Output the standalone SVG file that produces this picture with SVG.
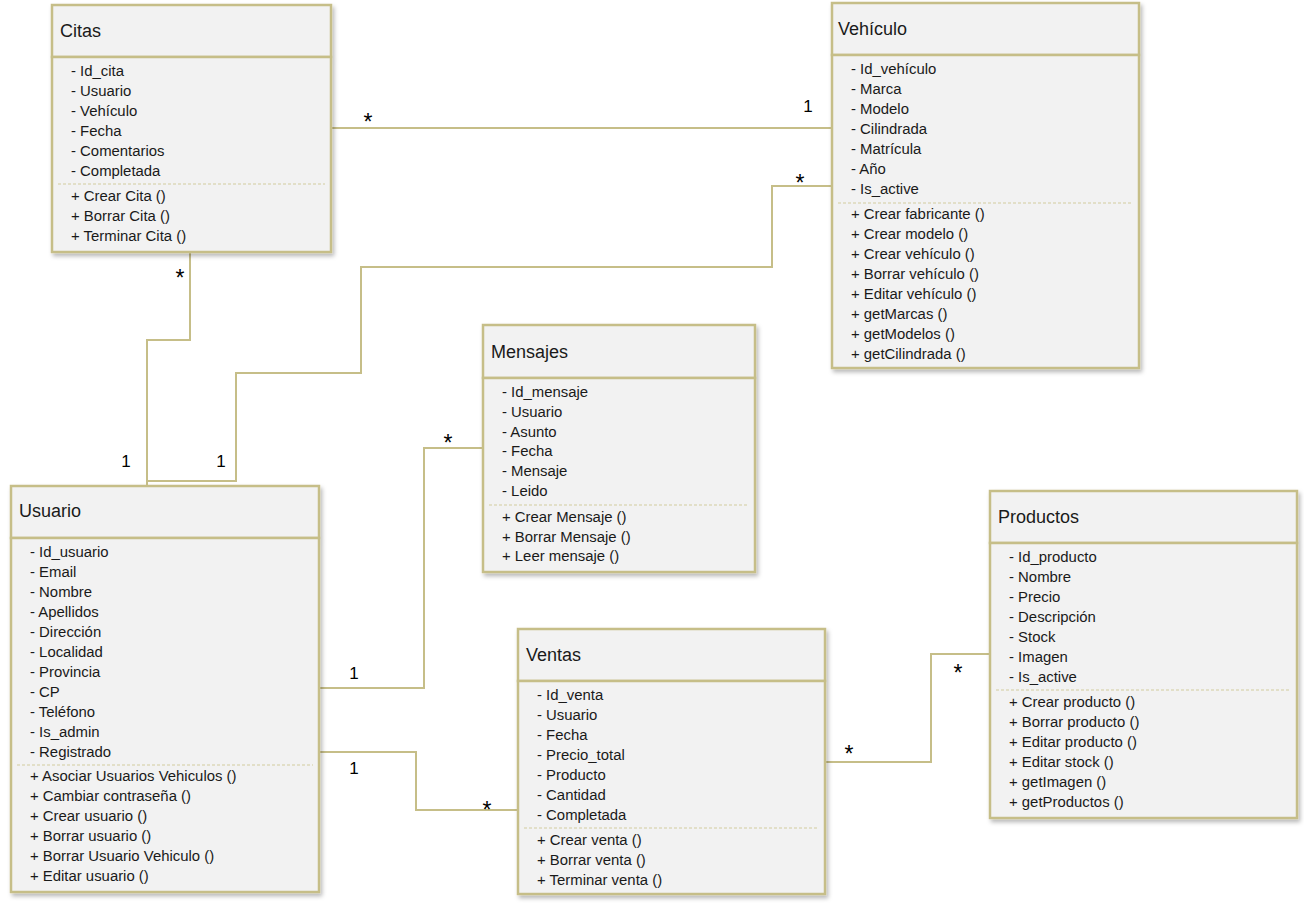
<svg xmlns="http://www.w3.org/2000/svg" width="1304" height="910" viewBox="0 0 1304 910">
<style>
.box{fill:#F2F2F2;stroke:#C6BE88;stroke-width:2.5}
.sep{stroke:#D2CB9E;stroke-width:1.2;stroke-dasharray:3 2}
.title{font-family:"Liberation Sans",Arial,sans-serif;font-size:18px;fill:#1a1a1a}
.t{font-family:"Liberation Sans",Arial,sans-serif;font-size:14.9px;fill:#1a1a1a}
.lbl{font-family:"Liberation Sans",Arial,sans-serif;font-size:17px;fill:#000;text-anchor:middle}
.star{font-family:"Liberation Sans",Arial,sans-serif;font-size:23px;fill:#000;text-anchor:middle}
.conn{fill:none;stroke:#C6BE88;stroke-width:2}
</style>
<defs>
<filter id="sh" x="-5%" y="-5%" width="115%" height="115%">
<feDropShadow dx="2" dy="3" stdDeviation="2" flood-color="#000" flood-opacity="0.28"/>
</filter>
</defs>
<rect width="1304" height="910" fill="#fff"/>

<g id="connectors">
<polyline class="conn" points="331,128 832,128"/>
<polyline class="conn" points="190,252 190,340 147,340 147,486"/>
<polyline class="conn" points="832,186 772,186 772,267 361,267 361,373 236,373 236,481 147,481"/>
<polyline class="conn" points="483,448 424,448 424,688 319,688"/>
<polyline class="conn" points="319,752 416,752 416,810 518,810"/>
<polyline class="conn" points="825,762 931,762 931,654 990,654"/>
<text class="star" x="368" y="130">*</text>
<text class="lbl" x="808" y="112">1</text>
<text class="star" x="180" y="286">*</text>
<text class="lbl" x="126" y="467">1</text>
<text class="star" x="800" y="191">*</text>
<text class="lbl" x="221" y="467">1</text>
<text class="star" x="448" y="451">*</text>
<text class="lbl" x="354" y="679">1</text>
<text class="lbl" x="354" y="774">1</text>
<text class="star" x="487" y="818">*</text>
<text class="star" x="849" y="762">*</text>
<text class="star" x="958" y="681">*</text>
</g>

<g id="citas">
<g filter="url(#sh)">
<rect class="box" x="52" y="5" width="279" height="52"/>
<rect class="box" x="52" y="57" width="279" height="195"/>
</g>
<text class="title" x="60" y="37">Citas</text>
<text class="t" x="71" y="76">- Id_cita</text>
<text class="t" x="71" y="96">- Usuario</text>
<text class="t" x="71" y="116">- Vehículo</text>
<text class="t" x="71" y="136">- Fecha</text>
<text class="t" x="71" y="156">- Comentarios</text>
<text class="t" x="71" y="176">- Completada</text>
<line class="sep" x1="58" y1="184" x2="325" y2="184"/>
<text class="t" x="71" y="201">+ Crear Cita ()</text>
<text class="t" x="71" y="221">+ Borrar Cita ()</text>
<text class="t" x="71" y="241">+ Terminar Cita ()</text>
</g>

<g id="vehiculo">
<g filter="url(#sh)">
<rect class="box" x="832" y="3" width="307" height="52"/>
<rect class="box" x="832" y="55" width="307" height="313"/>
</g>
<text class="title" x="838" y="35">Vehículo</text>
<text class="t" x="851" y="74">- Id_vehículo</text>
<text class="t" x="851" y="94">- Marca</text>
<text class="t" x="851" y="114">- Modelo</text>
<text class="t" x="851" y="134">- Cilindrada</text>
<text class="t" x="851" y="154">- Matrícula</text>
<text class="t" x="851" y="174">- Año</text>
<text class="t" x="851" y="194">- Is_active</text>
<line class="sep" x1="838" y1="203" x2="1133" y2="203"/>
<text class="t" x="851" y="219">+ Crear fabricante ()</text>
<text class="t" x="851" y="239">+ Crear modelo ()</text>
<text class="t" x="851" y="259">+ Crear vehículo ()</text>
<text class="t" x="851" y="279">+ Borrar vehículo ()</text>
<text class="t" x="851" y="299">+ Editar vehículo ()</text>
<text class="t" x="851" y="319">+ getMarcas ()</text>
<text class="t" x="851" y="339">+ getModelos ()</text>
<text class="t" x="851" y="359">+ getCilindrada ()</text>
</g>

<g id="mensajes">
<g filter="url(#sh)">
<rect class="box" x="483" y="325" width="272" height="53"/>
<rect class="box" x="483" y="378" width="272" height="194"/>
</g>
<text class="title" x="491" y="358">Mensajes</text>
<text class="t" x="502" y="397">- Id_mensaje</text>
<text class="t" x="502" y="417">- Usuario</text>
<text class="t" x="502" y="437">- Asunto</text>
<text class="t" x="502" y="456">- Fecha</text>
<text class="t" x="502" y="476">- Mensaje</text>
<text class="t" x="502" y="496">- Leido</text>
<line class="sep" x1="489" y1="505" x2="749" y2="505"/>
<text class="t" x="502" y="522">+ Crear Mensaje ()</text>
<text class="t" x="502" y="542">+ Borrar Mensaje ()</text>
<text class="t" x="502" y="561">+ Leer mensaje ()</text>
</g>

<g id="usuario">
<g filter="url(#sh)">
<rect class="box" x="11" y="486" width="308" height="52"/>
<rect class="box" x="11" y="538" width="308" height="354"/>
</g>
<text class="title" x="19" y="517">Usuario</text>
<text class="t" x="30" y="557">- Id_usuario</text>
<text class="t" x="30" y="577">- Email</text>
<text class="t" x="30" y="597">- Nombre</text>
<text class="t" x="30" y="617">- Apellidos</text>
<text class="t" x="30" y="637">- Dirección</text>
<text class="t" x="30" y="657">- Localidad</text>
<text class="t" x="30" y="677">- Provincia</text>
<text class="t" x="30" y="697">- CP</text>
<text class="t" x="30" y="717">- Teléfono</text>
<text class="t" x="30" y="737">- Is_admin</text>
<text class="t" x="30" y="757">- Registrado</text>
<line class="sep" x1="17" y1="765" x2="313" y2="765"/>
<text class="t" x="30" y="781">+ Asociar Usuarios Vehiculos ()</text>
<text class="t" x="30" y="801">+ Cambiar contraseña ()</text>
<text class="t" x="30" y="821">+ Crear usuario ()</text>
<text class="t" x="30" y="841">+ Borrar usuario ()</text>
<text class="t" x="30" y="861">+ Borrar Usuario Vehiculo ()</text>
<text class="t" x="30" y="881">+ Editar usuario ()</text>
</g>

<g id="ventas">
<g filter="url(#sh)">
<rect class="box" x="518" y="629" width="307" height="52"/>
<rect class="box" x="518" y="681" width="307" height="213"/>
</g>
<text class="title" x="526" y="661">Ventas</text>
<text class="t" x="537" y="700">- Id_venta</text>
<text class="t" x="537" y="720">- Usuario</text>
<text class="t" x="537" y="740">- Fecha</text>
<text class="t" x="537" y="760">- Precio_total</text>
<text class="t" x="537" y="780">- Producto</text>
<text class="t" x="537" y="800">- Cantidad</text>
<text class="t" x="537" y="820">- Completada</text>
<line class="sep" x1="524" y1="828" x2="819" y2="828"/>
<text class="t" x="537" y="845">+ Crear venta ()</text>
<text class="t" x="537" y="865">+ Borrar venta ()</text>
<text class="t" x="537" y="885">+ Terminar venta ()</text>
</g>

<g id="productos">
<g filter="url(#sh)">
<rect class="box" x="990" y="491" width="307" height="52"/>
<rect class="box" x="990" y="543" width="307" height="275"/>
</g>
<text class="title" x="998" y="523">Productos</text>
<text class="t" x="1009" y="562">- Id_producto</text>
<text class="t" x="1009" y="582">- Nombre</text>
<text class="t" x="1009" y="602">- Precio</text>
<text class="t" x="1009" y="622">- Descripción</text>
<text class="t" x="1009" y="642">- Stock</text>
<text class="t" x="1009" y="662">- Imagen</text>
<text class="t" x="1009" y="682">- Is_active</text>
<line class="sep" x1="996" y1="690" x2="1291" y2="690"/>
<text class="t" x="1009" y="707">+ Crear producto ()</text>
<text class="t" x="1009" y="727">+ Borrar producto ()</text>
<text class="t" x="1009" y="747">+ Editar producto ()</text>
<text class="t" x="1009" y="767">+ Editar stock ()</text>
<text class="t" x="1009" y="787">+ getImagen ()</text>
<text class="t" x="1009" y="807">+ getProductos ()</text>
</g>
</svg>
